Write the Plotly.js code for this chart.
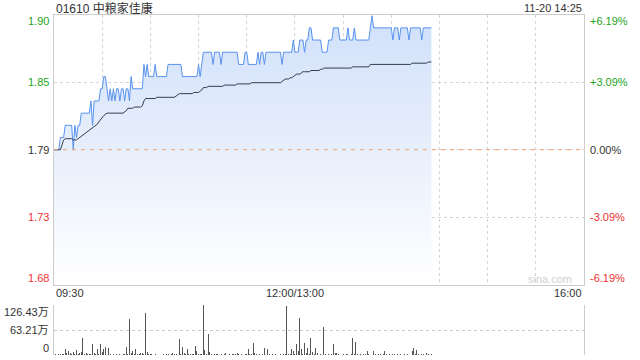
<!DOCTYPE html>
<html><head><meta charset="utf-8">
<script src="https://cdn.plot.ly/plotly-3.0.1.min.js"></script>
<style>html,body{margin:0;padding:0;background:#fff}#chart{width:640px;height:360px}</style>
</head><body><div id="chart"></div>
<script>
const stockTitle = "01610 中粮家佳康";
const stamp = "11-20 14:25";
const prevClose = 1.79;
const pctLevels = [6.19, 3.09, 0, -3.09, -6.19];
const priceLabels = ["1.90", "1.85", "1.79", "1.73", "1.68"];
const pctLabels = ["+6.19%", "+3.09%", "0.00%", "-3.09%", "-6.19%"];
const timeLabels = ["09:30", "12:00/13:00", "16:00"];
const timeLabelMin = [0, 150, 330];
const volLabels = ["126.43万", "63.21万", "0"];
const volLevels = [126.43, 63.21, 0];

const price = [
1.79,1.79,1.79,1.79,1.80,1.80,1.80,1.81,1.81,1.81,
1.81,1.81,1.79,1.81,1.80,1.81,1.81,1.82,1.82,1.82,
1.82,1.82,1.82,1.83,1.81,1.83,1.83,1.83,1.83,1.84,
1.84,1.85,1.85,1.84,1.83,1.84,1.83,1.84,1.83,1.84,
1.84,1.83,1.84,1.84,1.83,1.84,1.84,1.83,1.85,1.84,
1.84,1.84,1.84,1.84,1.84,1.84,1.86,1.85,1.86,1.85,
1.85,1.85,1.85,1.86,1.85,1.85,1.85,1.85,1.85,1.85,
1.85,1.86,1.86,1.86,1.86,1.86,1.86,1.86,1.86,1.86,
1.85,1.85,1.85,1.85,1.85,1.85,1.85,1.85,1.85,1.85,
1.86,1.85,1.86,1.87,1.87,1.87,1.87,1.87,1.87,1.86,
1.87,1.87,1.87,1.87,1.86,1.87,1.87,1.87,1.87,1.87,
1.87,1.87,1.87,1.87,1.87,1.86,1.86,1.86,1.86,1.87,
1.87,1.86,1.86,1.86,1.86,1.86,1.86,1.87,1.86,1.87,
1.87,1.86,1.87,1.87,1.87,1.87,1.87,1.87,1.87,1.87,
1.87,1.87,1.86,1.87,1.87,1.87,1.87,1.87,1.87,1.88,
1.87,1.87,1.87,1.88,1.88,1.88,1.87,1.88,1.88,1.89,
1.89,1.88,1.88,1.88,1.88,1.88,1.88,1.87,1.87,1.87,
1.87,1.88,1.88,1.88,1.89,1.89,1.89,1.89,1.88,1.88,
1.88,1.88,1.88,1.89,1.88,1.88,1.88,1.89,1.88,1.88,
1.88,1.88,1.88,1.88,1.88,1.88,1.88,1.89,1.90,1.89,
1.89,1.89,1.89,1.89,1.89,1.89,1.89,1.89,1.89,1.89,
1.89,1.88,1.89,1.89,1.89,1.88,1.89,1.89,1.89,1.89,
1.89,1.88,1.89,1.89,1.89,1.89,1.89,1.89,1.89,1.88,
1.89,1.89,1.89,1.89,1.89,1.89
];

const avgPrice = [
1.790,1.790,1.790,1.790,1.790,1.794,1.798,1.799,1.799,1.799,
1.799,1.799,1.798,1.798,1.798,1.799,1.800,1.801,1.802,1.803,
1.804,1.805,1.806,1.807,1.808,1.809,1.810,1.811,1.813,1.815,
1.817,1.818,1.819,1.820,1.820,1.820,1.820,1.820,1.820,1.820,
1.820,1.820,1.820,1.820,1.821,1.822,1.824,1.824,1.824,1.824,
1.825,1.825,1.825,1.825,1.825,1.826,1.830,1.832,1.832,1.832,
1.832,1.832,1.832,1.832,1.833,1.833,1.833,1.833,1.833,1.833,
1.833,1.833,1.833,1.833,1.833,1.833,1.834,1.835,1.836,1.836,
1.836,1.836,1.836,1.836,1.836,1.836,1.836,1.837,1.837,1.837,
1.837,1.838,1.839,1.841,1.841,1.841,1.842,1.842,1.842,1.842,
1.842,1.842,1.842,1.842,1.842,1.842,1.843,1.843,1.843,1.843,
1.843,1.843,1.843,1.843,1.844,1.844,1.844,1.844,1.844,1.844,
1.844,1.844,1.844,1.845,1.845,1.845,1.845,1.845,1.845,1.845,
1.845,1.845,1.845,1.845,1.845,1.845,1.845,1.845,1.845,1.845,
1.845,1.845,1.846,1.847,1.848,1.848,1.848,1.849,1.849,1.850,
1.851,1.852,1.852,1.852,1.853,1.854,1.854,1.854,1.854,1.854,
1.855,1.855,1.855,1.855,1.855,1.855,1.856,1.856,1.857,1.857,
1.857,1.857,1.857,1.857,1.857,1.857,1.857,1.857,1.857,1.857,
1.857,1.857,1.857,1.857,1.857,1.857,1.858,1.858,1.858,1.858,
1.858,1.858,1.858,1.858,1.858,1.858,1.858,1.860,1.860,1.860,
1.860,1.860,1.860,1.860,1.860,1.860,1.860,1.860,1.860,1.860,
1.860,1.860,1.860,1.860,1.860,1.860,1.860,1.860,1.860,1.860,
1.860,1.860,1.860,1.861,1.861,1.861,1.861,1.861,1.861,1.861,
1.861,1.861,1.861,1.862,1.862,1.862
];

const volume = [
3,2,1,2,2,3,2,14,4,11,
6,3,8,2,13,3,6,8,42,3,
4,2,3,2,28,4,2,14,3,28,
8,16,19,3,17,2,1,2,1,2,
1,2,1,2,2,19,3,91,5,11,
2,14,2,3,4,4,2,105,8,3,
2,2,1,2,1,1,2,1,2,1,
2,3,1,2,4,3,2,1,40,3,
19,4,2,14,2,3,2,2,23,11,
2,3,2,126.43,13,3,53,8,3,2,
2,2,3,1,2,1,2,6,1,2,
1,2,3,2,6,2,1,2,1,2,
2,15,3,2,30,4,2,1,2,1,
2,17,3,15,2,1,2,1,2,1,
1,2,1,2,2,124,2,3,14,11,
3,28,11,94,14,2,31,4,17,3,
43,7,3,17,4,6,2,1,72,2,
1,2,1,2,29,6,6,2,1,1,
2,1,3,2,1,2,43,3,33,2,
1,2,1,2,3,10,2,1,61,10,
2,1,2,3,1,2,10,2,1,2,
1,3,2,1,2,1,3,1,2,1,
2,1,1,10,17,2,13,2,1,2,
3,33,4,2,1,2
];

const minutes = price.map((_, i) => i);
const levels = pctLevels.map(p => prevClose * (1 + p / 100));
const yLo = levels[levels.length - 1], yHi = levels[0];

const FONT = 'Liberation Sans, Arial, "Noto Sans CJK SC", sans-serif';
const UP = '#22a522', DOWN = '#f03232', FLAT = '#333333';
const colorFor = p => p > 0 ? UP : (p < 0 ? DOWN : FLAT);

const traces = [
  {
    x: minutes, y: price, type: 'scatter', mode: 'lines',
    line: {color: '#5792ef', width: 1},
    fill: 'tozeroy',
    fillgradient: {type: 'vertical', start: yLo, stop: yHi,
      colorscale: [[0, 'rgba(255,255,255,1)'], [0.5, 'rgb(232,239,252)'], [1, 'rgb(208,224,250)']]},
    xaxis: 'x', yaxis: 'y', hoverinfo: 'skip'
  },
  {
    x: minutes, y: avgPrice, type: 'scatter', mode: 'lines',
    line: {color: '#333d4d', width: 1},
    xaxis: 'x', yaxis: 'y', hoverinfo: 'skip'
  },
  {
    x: minutes, y: volume, type: 'bar', width: 0.6,
    marker: {color: '#555555', line: {width: 0}},
    xaxis: 'x2', yaxis: 'y2', hoverinfo: 'skip'
  }
];

const W = 640, H = 360;
const xL = 54, xR = 584;
const pTop = 14.7, pBot = 284.7;
const vTop = 305, vBot = 355;
const px = v => v / W;
const py = v => 1 - v / H;

const annotations = [];
annotations.push({text: stockTitle, xref: 'paper', yref: 'paper', x: px(xL), y: py(8), xanchor: 'left', yanchor: 'middle', showarrow: false, font: {family: FONT, size: 12, color: '#333'}});
annotations.push({text: stamp, xref: 'paper', yref: 'paper', x: px(xR), y: py(8), xanchor: 'right', yanchor: 'middle', showarrow: false, font: {family: FONT, size: 11, color: '#333'}});

levels.forEach((lv, i) => {
  const shift = i === 0 ? -6 : (i === levels.length - 1 ? 6.5 : 0);
  const c = colorFor(pctLevels[i]);
  annotations.push({text: priceLabels[i], xref: 'paper', yref: 'y', x: px(51), y: lv, yshift: shift, xanchor: 'right', yanchor: 'middle', showarrow: false, font: {family: FONT, size: 11, color: c}});
  annotations.push({text: pctLabels[i], xref: 'paper', yref: 'y', x: px(588), y: lv, yshift: shift, xanchor: 'left', yanchor: 'middle', showarrow: false, font: {family: FONT, size: 11, color: c}});
});

timeLabels.forEach((t, i) => {
  annotations.push({text: t, xref: 'x', yref: 'paper', x: timeLabelMin[i], y: py(293), xanchor: i === 0 ? 'left' : (i === timeLabels.length - 1 ? 'right' : 'center'), yanchor: 'middle', showarrow: false, font: {family: FONT, size: 11, color: '#333'}});
});

volLevels.forEach((lv, i) => {
  const shift = i === 0 ? -7 : (i === volLevels.length - 1 ? 7 : 0);
  annotations.push({text: volLabels[i], xref: 'paper', yref: 'y2', x: px(51), y: lv, yshift: shift, xanchor: 'right', yanchor: 'middle', showarrow: false, font: {family: FONT, size: 11, color: '#333'}});
});

annotations.push({text: 'sina.com', xref: 'paper', yref: 'paper', x: px(574), y: py(279), xanchor: 'right', yanchor: 'middle', showarrow: false, font: {family: FONT, size: 11, color: '#d0d0d0'}});

const gridTimes = [];
for (let m = 30; m < 330; m += 30) gridTimes.push(m);

const layout = {
  width: W, height: H, margin: {l: 0, r: 0, t: 0, b: 0},
  paper_bgcolor: '#fff', plot_bgcolor: 'rgba(0,0,0,0)',
  showlegend: false, bargap: 0,
  xaxis: {domain: [px(xL), px(xR)], range: [0, 330], anchor: 'y', tickvals: gridTimes, showticklabels: false, ticks: '',
    showgrid: true, gridcolor: '#d4d4d4', griddash: 'dot', gridwidth: 1, zeroline: false,
    showline: true, mirror: true, linecolor: '#cccccc', linewidth: 1, fixedrange: true},
  yaxis: {domain: [py(pBot), py(pTop)], range: [yLo, yHi], anchor: 'x', tickvals: levels.slice(1, -1), showticklabels: false, ticks: '',
    showgrid: true, gridcolor: '#d4d4d4', griddash: 'dot', gridwidth: 1, zeroline: false,
    showline: true, mirror: true, linecolor: '#cccccc', linewidth: 1, fixedrange: true},
  xaxis2: {domain: [px(xL), px(xR)], range: [0, 330], anchor: 'y2', showticklabels: false, ticks: '', showgrid: false, zeroline: false, showline: false, fixedrange: true},
  yaxis2: {domain: [py(vBot), py(vTop)], range: [0, volLevels[0]], anchor: 'x2', tickvals: volLevels, showticklabels: false, ticks: '',
    showgrid: true, gridcolor: '#c8c8c8', griddash: 'dot', gridwidth: 1, zeroline: false,
    showline: true, mirror: true, linecolor: '#cccccc', linewidth: 1, fixedrange: true},
  shapes: [
    {type: 'line', xref: 'paper', yref: 'y', x0: px(xL), x1: px(xR), y0: prevClose, y1: prevClose,
     line: {color: '#f0a070', width: 1, dash: '4px,5px'}}
  ],
  annotations: annotations
};

Plotly.newPlot('chart', traces, layout, {staticPlot: true, displayModeBar: false});
</script></body></html>
